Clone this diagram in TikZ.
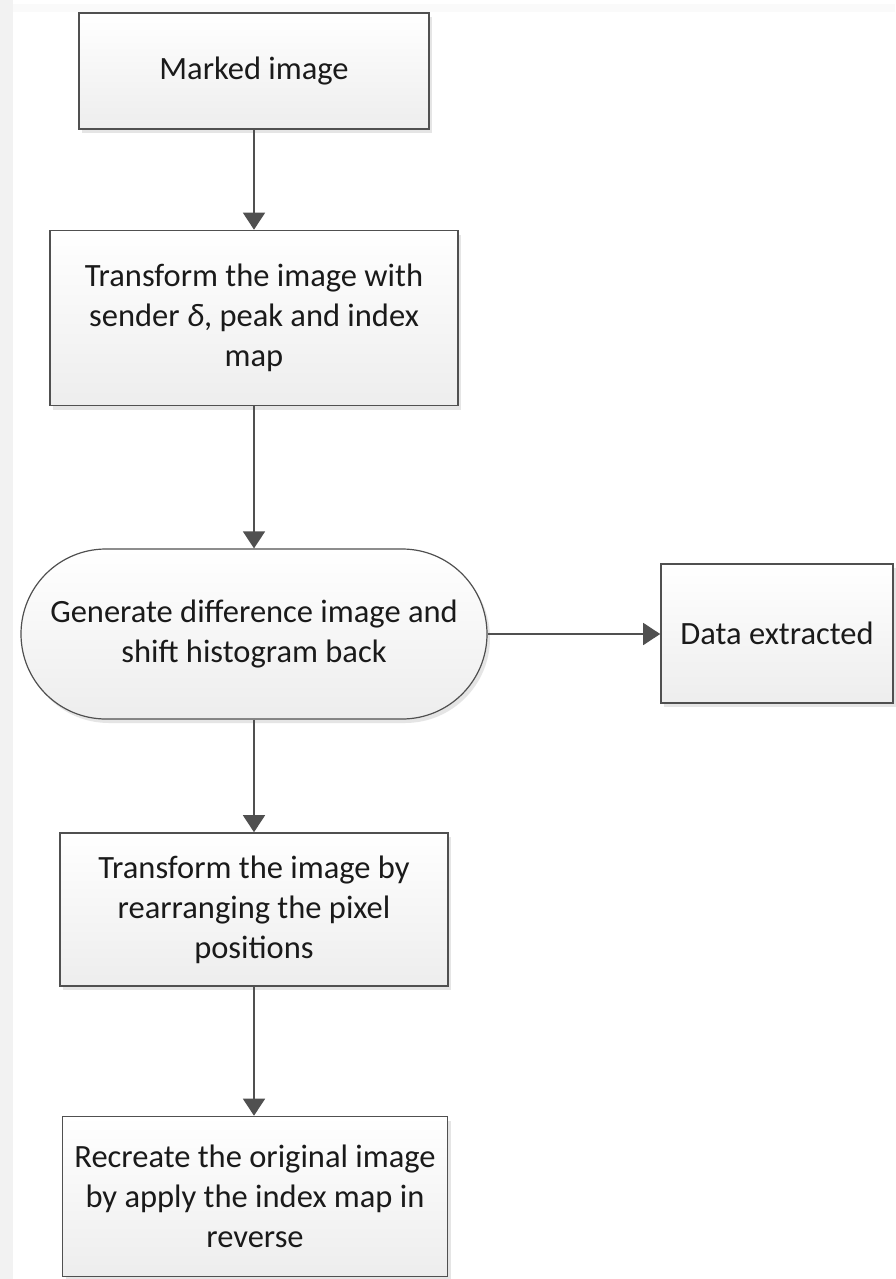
\documentclass[tikz,border=0pt]{standalone}
\usepackage{fontspec}
\setmainfont{Carlito}
\usetikzlibrary{arrows.meta,shapes.misc,shadows}
\definecolor{edge}{HTML}{505050}
\definecolor{bgstrip}{HTML}{F2F2F2}
\definecolor{txt}{HTML}{1A1A1A}
\begin{document}
\begin{tikzpicture}[x=1pt,y=-1pt,
  box/.style={draw=edge, line width=1.6pt, top color=white, bottom color=black!7,
    text=txt, align=center, font=\fontsize{32.5}{40}\selectfont, inner sep=0pt,
    drop shadow={shadow xshift=3pt, shadow yshift=-4pt, fill=black!14, opacity=0.7}},
  conn/.style={draw=edge, line width=1.5pt, -{Triangle[length=17pt,width=22pt]}}]
\useasboundingbox (0,0) rectangle (895,1279);
\fill[white] (0,0) rectangle (895,1279);
\fill[bgstrip] (0,0) rectangle (13,1279);
\fill[black!2] (13,4) rectangle (895,12);

\node[box, minimum width=350pt, minimum height=116pt] (b1) at (254,71) {Marked image};
\node[box, minimum width=408pt, minimum height=175pt] (b2) at (254,318)
  {Transform the image with\\ sender \textit{δ}, peak and index\\ map};
\node[box, rounded rectangle, line width=1.2pt, minimum width=466pt, minimum height=170pt,
  drop shadow={shadow xshift=2pt, shadow yshift=-3pt, fill=black!10, opacity=0.5}] (st) at (254,634)
  {Generate difference image and\\ shift histogram back};
\node[box, minimum width=232pt, minimum height=139pt] (de) at (777,633.5) {Data extracted};
\node[box, minimum width=388pt, minimum height=153pt] (b4) at (254,909.5)
  {Transform the image by\\ rearranging the pixel\\ positions};
\node[box, minimum width=385pt, minimum height=160pt] (b5) at (255,1196.5)
  {Recreate the original image\\ by apply the index map in\\ reverse};

\draw[conn] (b1.south) -- (b1.south |- b2.north);
\draw[conn] (b2.south) -- (b2.south |- st.north);
\draw[conn] (st.east) -- (st.east -| de.west);
\draw[conn] (st.south) -- (st.south |- b4.north);
\draw[conn] (b4.south) -- (b4.south |- b5.north);
\end{tikzpicture}
\end{document}
